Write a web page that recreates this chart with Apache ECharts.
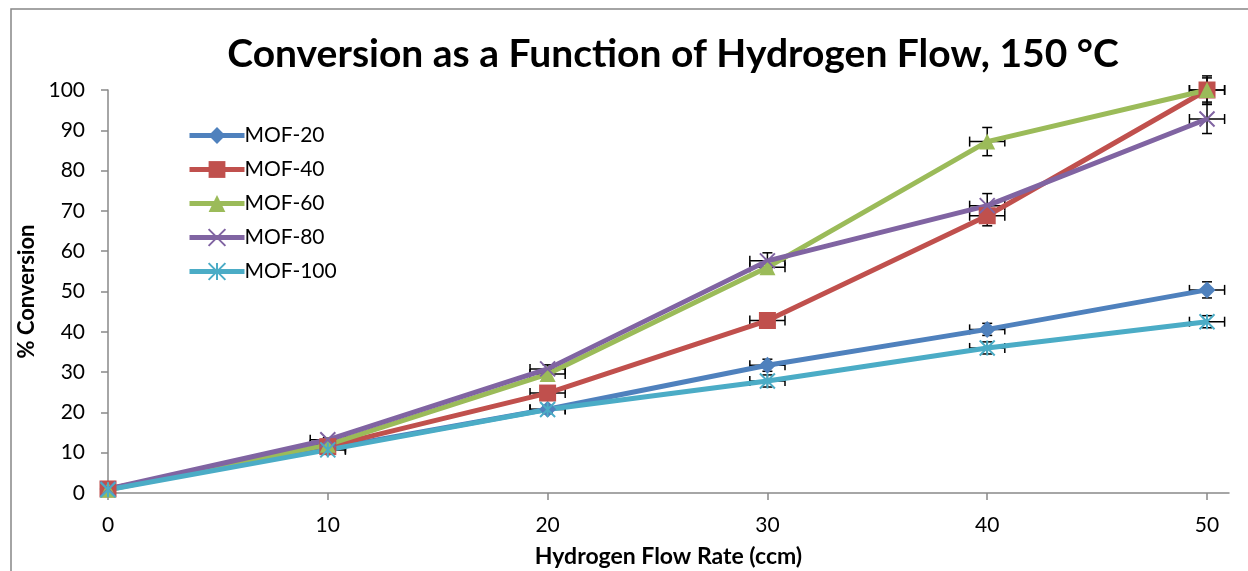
<!DOCTYPE html>
<html>
<head>
<meta charset="utf-8">
<script src="https://cdn.jsdelivr.net/npm/echarts@6/dist/echarts.min.js"></script>
<style>
  html, body { margin: 0; padding: 0; background: #fff; }
  #chart { width: 1248px; height: 571px; }
</style>
</head>
<body>
<div id="chart"></div>
<script>
// flow rate (ccm)
var flowRates = [0, 10, 20, 30, 40, 50];
var xTicks = [0, 10, 20, 30, 40, 50];

// % conversion
var mof20 = [1, 11, 20.8, 31.7, 40.6, 50.4];
var mof40 = [1, 11.5, 24.8, 42.8, 68.8, 100];
var mof60 = [0.8, 12, 29.5, 56, 87.2, 100];
var mof80 = [1, 13.2, 30.8, 57.6, 71.3, 92.8];
var mof100 = [0.8, 10.7, 20.7, 27.8, 36, 42.5];

// error bars (+/-)
var mof20Err = [0, 0.5, 0.8, 1.5, 1.5, 2];
var mof40Err = [0, 0.5, 1, 1, 2.5, 3];
var mof60Err = [0, 0.5, 1, 1.5, 3.5, 3.5];
var mof80Err = [0, 0.5, 1, 2, 3, 3.6];
var mof100Err = [0, 0.5, 1, 1.5, 1.5, 1.5];
var flowErr = [0, 0.8, 0.8, 0.8, 0.8, 0.8];

var names = ['MOF-20', 'MOF-40', 'MOF-60', 'MOF-80', 'MOF-100'];
var colors = ['#4F81BD', '#C0504D', '#9BBB59', '#8064A2', '#4BACC6'];
var symbols = [
	'diamond',
	'rect',
	'triangle',
	'path://M0,0L10,10M10,0L0,10',
	'path://M5,0L5,10M0,0L10,10M10,0L0,10'
];
var symbolSizes = [17, 17, 16, 15, 15];
var allValues = [mof20, mof40, mof60, mof80, mof100];
var allErrs = [mof20Err, mof40Err, mof60Err, mof80Err, mof100Err];

var font = 'Lato, "Liberation Sans", sans-serif';

var chart = echarts.init(document.getElementById('chart'));

function errorBarRender(params, api) {
	var x = api.value(0), y = api.value(1);
	var ex = api.value(2), ey = api.value(3);
	var c = api.coord([x, y]);
	var cap = 5;
	var children = [];
	if (ey > 0) {
		var top = api.coord([x, y + ey]);
		var bot = api.coord([x, y - ey]);
		children.push({type: 'line', shape: {x1: c[0], y1: top[1], x2: c[0], y2: bot[1]}, style: {stroke: '#000', lineWidth: 1.5}});
		children.push({type: 'line', shape: {x1: c[0] - cap, y1: top[1], x2: c[0] + cap, y2: top[1]}, style: {stroke: '#000', lineWidth: 1.5}});
		children.push({type: 'line', shape: {x1: c[0] - cap, y1: bot[1], x2: c[0] + cap, y2: bot[1]}, style: {stroke: '#000', lineWidth: 1.5}});
	}
	if (ex > 0) {
		var l = api.coord([x - ex, y]);
		var r = api.coord([x + ex, y]);
		children.push({type: 'line', shape: {x1: l[0], y1: c[1], x2: r[0], y2: c[1]}, style: {stroke: '#000', lineWidth: 1.5}});
		children.push({type: 'line', shape: {x1: l[0], y1: c[1] - cap, x2: l[0], y2: c[1] + cap}, style: {stroke: '#000', lineWidth: 1.5}});
		children.push({type: 'line', shape: {x1: r[0], y1: c[1] - cap, x2: r[0], y2: c[1] + cap}, style: {stroke: '#000', lineWidth: 1.5}});
	}
	return {type: 'group', children: children};
}

var series = [];
names.forEach(function(name, i) {
	var errData = flowRates.map(function(x, j) {
		return [x, allValues[i][j], flowErr[j], allErrs[i][j]];
	});
	series.push({
		name: name + ' err',
		type: 'custom',
		renderItem: errorBarRender,
		data: errData,
		z: 1,
		silent: true
	});
});
names.forEach(function(name, i) {
	var pathSym = symbols[i].indexOf('path://') === 0;
	series.push({
		name: name,
		type: 'line',
		data: flowRates.map(function(x, j) { return [x, allValues[i][j]]; }),
		symbol: symbols[i],
		symbolSize: symbolSizes[i],
		showAllSymbol: true,
		z: 3,
		lineStyle: {color: colors[i], width: 5},
		itemStyle: pathSym
			? {color: colors[i], borderColor: colors[i], borderWidth: 2}
			: {color: colors[i], opacity: 1},
		emphasis: {disabled: true}
	});
});

var option = {
	animation: false,
	backgroundColor: '#fff',
	title: {
		text: 'Conversion as a Function of Hydrogen Flow, 150 °C',
		left: 668,
		textAlign: 'center',
		top: 30,
		textStyle: {fontFamily: font, fontWeight: 'bold', fontSize: 39, color: '#000'}
	},
	legend: {
		orient: 'vertical',
		left: 182,
		top: 120,
		itemWidth: 55,
		itemHeight: 21,
		itemGap: 13,
		data: names,
		lineStyle: {width: 5},
		textStyle: {fontFamily: font, fontSize: 21, color: '#000', padding: [0, 0, 0, -5]}
	},
	graphic: [{
		type: 'rect',
		shape: {x: 11, y: 9, width: 1400, height: 800},
		style: {fill: 'none', stroke: '#868686', lineWidth: 1.5},
		silent: true
	}],
	grid: {left: 108, right: 19, top: 90, bottom: 78, outerBoundsMode: 'none'},
	xAxis: {
		type: 'value',
		min: 0,
		max: 51,
		interval: 10,
		name: 'Hydrogen Flow Rate (ccm)',
		nameLocation: 'middle',
		nameGap: 52,
		nameTextStyle: {fontFamily: font, fontWeight: 'bold', fontSize: 23, color: '#000'},
		splitLine: {show: false},
		axisLine: {lineStyle: {color: '#898989', width: 1.5}},
		axisTick: {show: true, length: 7, inside: false, customValues: xTicks, lineStyle: {color: '#898989', width: 1.5}},
		axisLabel: {customValues: xTicks, margin: 22, fontFamily: font, fontSize: 21, color: '#000'}
	},
	yAxis: {
		type: 'value',
		min: 0,
		max: 100,
		interval: 10,
		name: '% Conversion',
		nameLocation: 'middle',
		nameGap: 63,
		nameTextStyle: {fontFamily: font, fontWeight: 'bold', fontSize: 22, color: '#000'},
		splitLine: {show: false},
		axisLine: {show: true, lineStyle: {color: '#898989', width: 1.5}},
		axisTick: {show: true, length: 7, lineStyle: {color: '#898989', width: 1.5}},
		axisLabel: {margin: 23, fontFamily: font, fontSize: 21, color: '#000'}
	},
	series: series
};

chart.setOption(option);
</script>
</body>
</html>
